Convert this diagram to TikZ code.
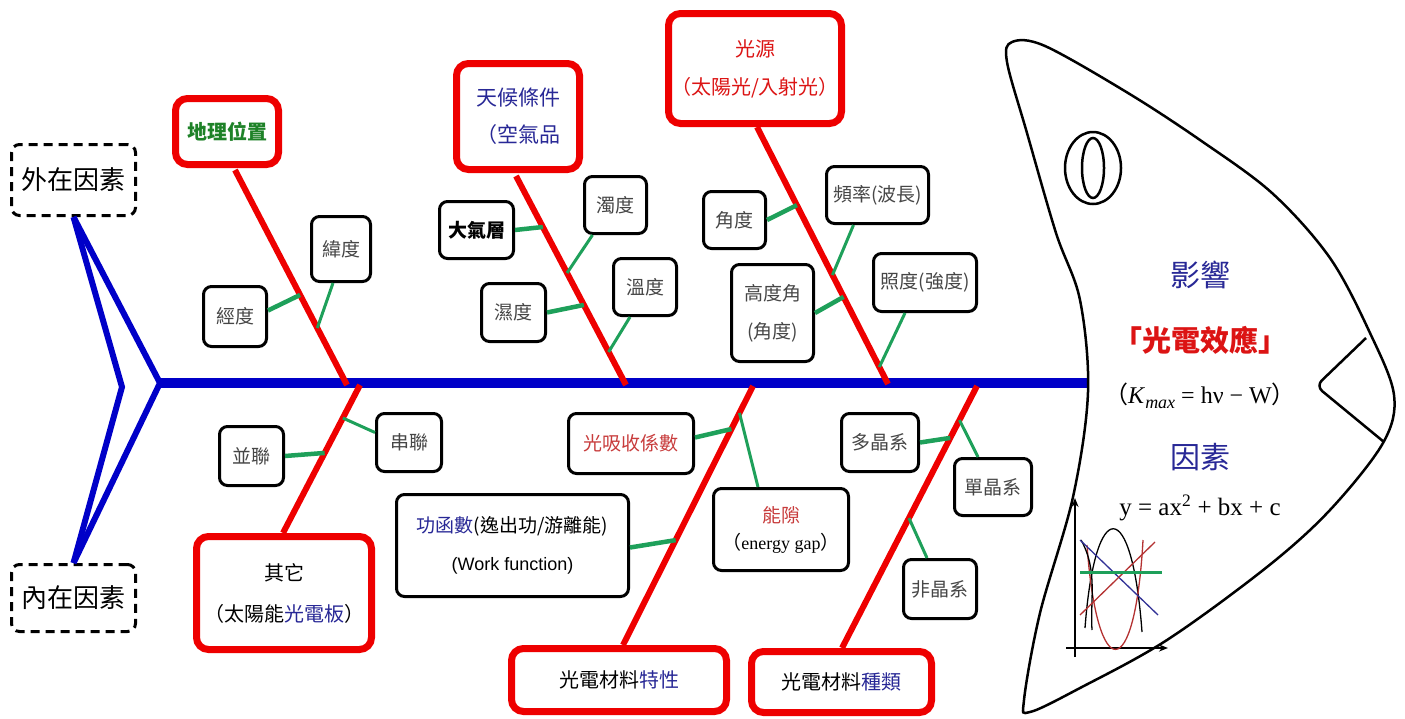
\documentclass[tikz,border=0pt]{standalone}
\usepackage{fontspec}
\setmainfont{Noto Sans CJK TC}
\newfontfamily\serifrm{Liberation Serif}
\newfontfamily\latinsans{Liberation Sans}
\usetikzlibrary{calc,arrows.meta}

\definecolor{spineblue}{RGB}{0,0,200}
\definecolor{bonered}{RGB}{238,0,0}
\definecolor{linkgreen}{RGB}{30,160,90}
\definecolor{txtgreen}{RGB}{30,130,40}
\definecolor{txtblue}{RGB}{40,40,150}
\definecolor{txtred}{RGB}{220,20,20}
\definecolor{softred}{RGB}{200,60,60}
\definecolor{labelgray}{RGB}{70,70,70}
\definecolor{plotred}{RGB}{180,50,50}
\definecolor{plotblue}{RGB}{50,50,150}

\begin{document}
\begin{tikzpicture}[x=1pt,y=-1pt,
  redbox/.style={draw=bonered, line width=7pt, rounded corners=12pt, fill=white,
    align=center, inner sep=0pt, font=\fontsize{20}{38}\selectfont},
  blackbox/.style={draw=black, line width=3pt, rounded corners=8pt, fill=white,
    align=center, inner sep=0pt, text=labelgray, font=\fontsize{19}{38}\selectfont},
  dashbox/.style={draw=black, line width=3pt, dash pattern=on 9pt off 6pt,
    rounded corners=8pt, fill=white, inner sep=0pt, font=\fontsize{26}{30}\selectfont},
  bone/.style={draw=bonered, line width=6pt},
  link/.style={draw=linkgreen, line width=3pt},
  linkthick/.style={draw=linkgreen, line width=4.5pt},
  spine/.style={draw=spineblue, line width=10pt},
  tail/.style={draw=spineblue, line width=6pt, line join=miter},
  outline/.style={draw=black, line width=2.5pt},
  plotline/.style={line width=1.3pt}
]
\useasboundingbox (0,0) rectangle (1405,718);
\fill[white] (0,0) rectangle (1405,718);

% ---------- factor boxes (outer, inner) ----------
\node[dashbox, minimum width=124pt, minimum height=71pt] (ext) at (73.5,180) {外在因素};
\node[dashbox, minimum width=124pt, minimum height=67pt] (int) at (73.5,598) {內在因素};

% ---------- tail and spine ----------
\coordinate (tailout) at (160,383);
\coordinate (tailin) at (122,387);
\coordinate (head) at (1092,383);
\draw[tail] (ext.south) -- (tailout) -- (int.north);
\draw[tail] (ext.south) -- (tailin) -- (int.north);
\draw[spine] (tailout) -- (head);

% ---------- bones ----------
\coordinate (b1a) at (235,170); \coordinate (b1b) at (347,385);
\coordinate (b2a) at (516,176); \coordinate (b2b) at (626,385);
\coordinate (b3a) at (757,127); \coordinate (b3b) at (888,384);
\coordinate (b4a) at (283,533); \coordinate (b4b) at (360,385);
\coordinate (b5a) at (623,645); \coordinate (b5b) at (753,386);
\coordinate (b6a) at (842,648); \coordinate (b6b) at (977,386);
\foreach \b in {1,...,6} { \draw[bone] (b\b a) -- (b\b b); }

% ---------- detail boxes ----------
\node[blackbox, minimum width=63pt, minimum height=60pt] (jing) at (235,316.5) {經度};
\node[blackbox, minimum width=59pt, minimum height=65pt] (wei) at (341,249) {緯度};
\node[blackbox, minimum width=74pt, minimum height=57pt, text=black, font=\fontsize{19}{23}\selectfont\bfseries] (daqi) at (476.5,230) {大氣層};
\node[blackbox, minimum width=62pt, minimum height=57pt] (zhuo) at (615.5,205) {濁度};
\node[blackbox, minimum width=64pt, minimum height=58pt] (shi) at (513.5,312.5) {濕度};
\node[blackbox, minimum width=63pt, minimum height=57pt] (wen) at (645,287) {溫度};
\node[blackbox, minimum width=62pt, minimum height=57pt] (jiao) at (734.5,220) {角度};
\node[blackbox, minimum width=102pt, minimum height=57pt] (pinlv) at (877.5,195) {頻率(波長)};
\node[blackbox, minimum width=82pt, minimum height=97pt] (gaodu) at (772.5,313) {高度角\\(角度)};
\node[blackbox, minimum width=103pt, minimum height=58pt] (zhaodu) at (925,282.5) {照度(強度)};
\node[blackbox, minimum width=64pt, minimum height=59pt] (bing) at (251.5,456) {並聯};
\node[blackbox, minimum width=65pt, minimum height=58pt] (chuan) at (409,442.5) {串聯};
\node[blackbox, minimum width=125pt, minimum height=60pt, text=softred] (xishou) at (631,443.5) {光吸收係數};
\node[blackbox, minimum width=232pt, minimum height=102pt, text=black] (gonghan) at (512.5,545.5)
  {{\color{txtblue}功函數}(逸出功/游離能)\\{\latinsans\fontsize{18}{38}\selectfont (Work function)}};
\node[blackbox, minimum width=135pt, minimum height=82pt, text=black, font=\fontsize{19}{27}\selectfont] (nengxi) at (781,529.5)
  {{\color{softred}能隙}\\（{\serifrm\fontsize{18}{27}\selectfont energy gap}）};
\node[blackbox, minimum width=77pt, minimum height=58pt] (duo) at (880,442.5) {多晶系};
\node[blackbox, minimum width=77pt, minimum height=57pt] (dan) at (993,487) {單晶系};
\node[blackbox, minimum width=73pt, minimum height=59pt] (fei) at (940,589) {非晶系};

% ---------- links from details to bones ----------
\draw[linkthick] ($(jing.east)+(0,-6)$) -- ($(b1a)!0.581!(b1b)$);
\draw[link] ($(wei.south)+(-8,0)$) -- ($(b1a)!0.735!(b1b)$);
\draw[linkthick] (daqi.east) -- ($(b2a)!0.244!(b2b)$);
\draw[link] ($(zhuo.south)+(-23,0)$) -- ($(b2a)!0.464!(b2b)$);
\draw[linkthick] (shi.east) -- ($(b2a)!0.617!(b2b)$);
\draw[link] ($(wen.south)+(-15,0)$) -- ($(b2a)!0.842!(b2b)$);
\draw[linkthick] (jiao.east) -- ($(b3a)!0.304!(b3b)$);
\draw[link] ($(pinlv.south)+(-24,0)$) -- ($(b3a)!0.576!(b3b)$);
\draw[linkthick] (gaodu.east) -- ($(b3a)!0.661!(b3b)$);
\draw[link] ($(zhaodu.south)+(-20,0)$) -- ($(b3a)!0.934!(b3b)$);
\draw[linkthick] (bing.east) -- ($(b4a)!0.541!(b4b)$);
\draw[link] ($(chuan.west)+(0,-10)$) -- ($(b4a)!0.777!(b4b)$);
\draw[linkthick] ($(xishou.east)+(0,-6)$) -- ($(b5a)!0.834!(b5b)$);
\draw[link] ($(nengxi.north)+(-23,0)$) -- ($(b5a)!0.896!(b5b)$);
\draw[linkthick] ($(gonghan.east)+(0,2)$) -- ($(b5a)!0.405!(b5b)$);
\draw[linkthick] (duo.east) -- ($(b6a)!0.802!(b6b)$);
\draw[link] ($(dan.north)+(-15,0)$) -- ($(b6a)!0.870!(b6b)$);
\draw[link] ($(fei.north)+(-13,0)$) -- ($(b6a)!0.496!(b6b)$);

% ---------- main cause boxes ----------
\node[redbox, minimum width=103pt, minimum height=66pt, text=txtgreen, font=\fontsize{20}{24}\selectfont\bfseries] (geo) at (227,131.5) {地理位置};
\node[redbox, minimum width=123pt, minimum height=106pt, text=txtblue, font=\fontsize{21}{37}\selectfont] (climate) at (518,116.5) {天候條件\\（空氣品};
\node[redbox, minimum width=173pt, minimum height=110pt, text=txtred] (light) at (755,68.5) {光源\\（太陽光/入射光）};
\node[redbox, minimum width=175pt, minimum height=113pt, font=\fontsize{20}{41}\selectfont] (other) at (284,593) {其它\\（太陽能{\color{txtblue}光電板}）};
\node[redbox, minimum width=215pt, minimum height=63pt] (chara) at (619,680) {光電材料{\color{txtblue}特性}};
\node[redbox, minimum width=180pt, minimum height=61pt] (kind) at (841.5,682) {光電材料{\color{txtblue}種類}};

% ---------- fish head ----------
\draw[outline, fill=white] plot[smooth cycle, tension=0.55] coordinates {
  (1012,42) (1045,46) (1128,93) (1200,140) (1272,193) (1330,258) (1370,333)
  (1394,395) (1383,443) (1330,510) (1267,567) (1167,640) (1080,688) (1030,712)
  (1024,700) (1040,613) (1073,497) (1088,392) (1080,300) (1056,233) (1027,133) (1007,62)};
\draw[outline, rounded corners=8pt] (1366,338) -- (1316,386) -- (1384,442);
\draw[outline] (1093,168) ellipse [x radius=28pt, y radius=36pt];
\draw[outline] (1093,168) ellipse [x radius=11pt, y radius=30pt];

\node[text=txtblue, font=\fontsize{30}{34}\selectfont] (effect) at (1200,275) {影響};
\node[text=txtred, font=\fontsize{29}{32}\selectfont\bfseries] (pe) at (1200,340) {「光電效應」};
\node[font=\fontsize{24}{28}\selectfont] (eq) at (1200,396)
  {（{\serifrm\textit{K}\raisebox{-0.45ex}{\fontsize{18}{18}\selectfont\textit{max}} = hν − W}）};
\node[text=txtblue, font=\fontsize{30}{34}\selectfont] (factor) at (1200,457) {因素};
\node[font=\serifrm\fontsize{25}{28}\selectfont] (quad) at (1200,508) {y = ax\textsuperscript{2} + bx + c};

% small plot
\draw[outline, -{Stealth[length=9pt,width=7pt]}] (1075,657) -- (1075,498);
\draw[outline, -{Stealth[length=9pt,width=7pt]}] (1066,648) -- (1168,648);
\draw[plotline] (1085,628) .. controls (1095,495) and (1132,495) .. (1142,632);
\draw[plotline, plotred] (1087,545) .. controls (1097,685) and (1135,685) .. (1143,540);
\draw[plotline] (1081,540) .. controls (1098,570) and (1090,600) .. (1092,630);
\draw[plotline, plotblue] (1080,540) -- (1158,615);
\draw[plotline, plotred] (1080,615) -- (1155,542);
\draw[line width=3pt, linkgreen] (1080,572) -- (1162,572);
\end{tikzpicture}
\end{document}
